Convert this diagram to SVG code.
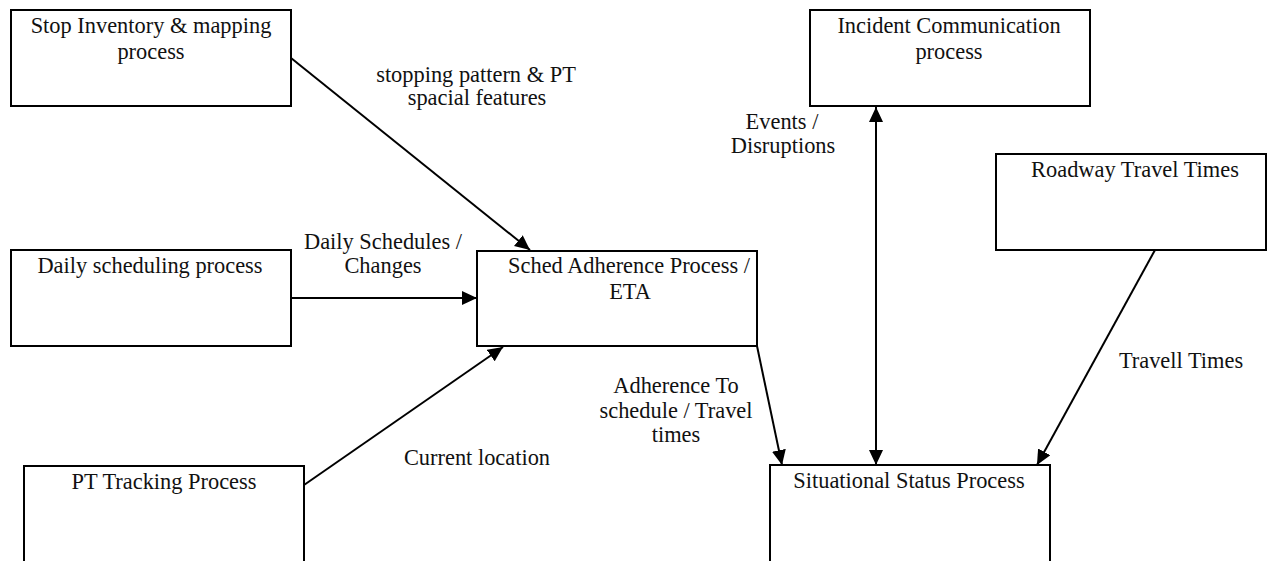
<svg xmlns="http://www.w3.org/2000/svg" width="1267" height="561" viewBox="0 0 1267 561">
<defs>
<style>
.box{fill:#fff;stroke:#000;stroke-width:2}
.t{font-family:"Liberation Serif","DejaVu Serif",serif;font-size:22.4px;fill:#111;text-anchor:middle}
.c{stroke:#000;stroke-width:2;fill:none}
</style>
<marker id="ah" markerUnits="userSpaceOnUse" markerWidth="16" markerHeight="14" refX="15" refY="7" orient="auto-start-reverse" viewBox="0 0 16 14">
<path d="M0,0 L15,7 L0,14 z" fill="#000"/>
</marker>
</defs>
<rect width="1267" height="561" fill="#fff"/>
<g id="connectors">
<line class="c" x1="291" y1="58" x2="530" y2="250" marker-end="url(#ah)"/>
<line class="c" x1="291" y1="298" x2="477" y2="298" marker-end="url(#ah)"/>
<line class="c" x1="304" y1="485" x2="503" y2="347" marker-end="url(#ah)"/>
<line class="c" x1="757" y1="346" x2="782" y2="465" marker-end="url(#ah)"/>
<line class="c" x1="876" y1="107" x2="876" y2="465" marker-start="url(#ah)" marker-end="url(#ah)"/>
<line class="c" x1="1155" y1="250" x2="1037" y2="465" marker-end="url(#ah)"/>
<text class="t" x="476" y="82">stopping pattern &amp; PT</text>
<text class="t" x="477" y="105">spacial features</text>
<text class="t" x="383" y="249">Daily Schedules /</text>
<text class="t" x="383" y="273">Changes</text>
<text class="t" x="782" y="129">Events /</text>
<text class="t" x="783" y="153">Disruptions</text>
<text class="t" x="1181" y="368">Travell Times</text>
<text class="t" x="676" y="393">Adherence To</text>
<text class="t" x="676" y="418">schedule / Travel</text>
<text class="t" x="676" y="442">times</text>
<text class="t" x="477" y="465">Current location</text>
</g>
<g id="stop-inventory">
<rect class="box" x="11" y="10" width="280" height="96"/>
<text class="t" x="151" y="33">Stop Inventory &amp; mapping</text>
<text class="t" x="151" y="59">process</text>
</g>
<g id="incident">
<rect class="box" x="810" y="10" width="280" height="96"/>
<text class="t" x="949" y="33">Incident Communication</text>
<text class="t" x="949" y="59">process</text>
</g>
<g id="roadway">
<rect class="box" x="996" y="154" width="270" height="96"/>
<text class="t" x="1135" y="177">Roadway Travel Times</text>
</g>
<g id="daily-scheduling">
<rect class="box" x="11" y="250" width="280" height="96"/>
<text class="t" x="150" y="273">Daily scheduling process</text>
</g>
<g id="sched-adherence">
<rect class="box" x="477" y="251" width="280" height="95"/>
<text class="t" x="629" y="273">Sched Adherence Process /</text>
<text class="t" x="630" y="299">ETA</text>
</g>
<g id="pt-tracking">
<rect class="box" x="24" y="466" width="280" height="120"/>
<text class="t" x="164" y="489">PT Tracking Process</text>
</g>
<g id="situational">
<rect class="box" x="770" y="465" width="280" height="120"/>
<text class="t" x="909" y="488">Situational Status Process</text>
</g>
</svg>
